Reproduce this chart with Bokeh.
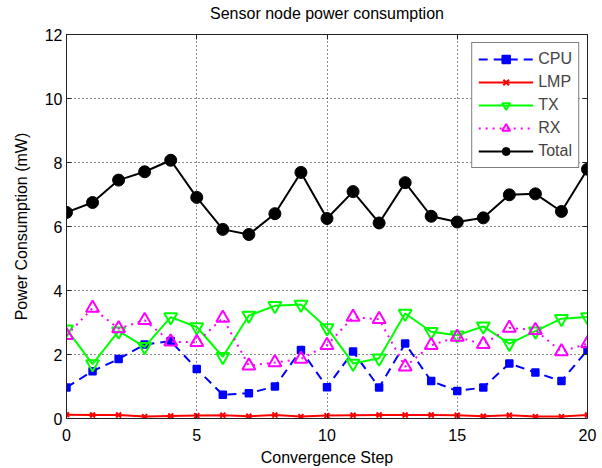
from bokeh.plotting import figure
from bokeh.models import Range1d, FixedTicker, LinearAxis, Legend, LegendItem, CustomLabelingPolicy
from bokeh.embed import file_html
from bokeh.resources import INLINE

steps = list(range(21))
cpu = [0.97, 1.48, 1.86, 2.31, 2.42, 1.55, 0.74, 0.79, 1.00, 2.14, 0.98,
       2.09, 0.97, 2.34, 1.17, 0.86, 0.97, 1.72, 1.44, 1.17, 2.14]
lmp = [0.12, 0.11, 0.11, 0.06, 0.08, 0.09, 0.10, 0.07, 0.11, 0.06, 0.09,
       0.10, 0.11, 0.11, 0.11, 0.10, 0.07, 0.10, 0.06, 0.06, 0.11]
tx = [2.79, 1.70, 2.73, 2.24, 3.17, 2.86, 1.93, 3.22, 3.52, 3.56, 2.83,
      1.72, 1.88, 3.28, 2.71, 2.60, 2.88, 2.34, 2.73, 3.12, 3.17]
rx = [2.60, 3.45, 2.81, 3.07, 2.40, 2.38, 3.14, 1.65, 1.75, 1.86, 2.29,
      3.17, 3.10, 1.62, 2.29, 2.55, 2.32, 2.83, 2.76, 2.09, 2.34]
total = [6.44, 6.75, 7.45, 7.71, 8.07, 6.91, 5.91, 5.75, 6.40, 7.69, 6.25,
         7.09, 6.11, 7.37, 6.32, 6.14, 6.27, 6.99, 7.02, 6.47, 7.79]

x_ticks = [0, 5, 10, 15, 20]
y_ticks = [0, 2, 4, 6, 8, 10, 12]

FONT = "Liberation Sans"
FS = "16px"

p = figure(width=602, height=468, output_backend="svg", toolbar_location=None,
           x_range=Range1d(0, 20), y_range=Range1d(0, 12),
           x_axis_label="Convergence Step", y_axis_label="Power Consumption (mW)",
           title="Sensor node power consumption",
           min_border_left=66, min_border_right=11, min_border_top=34, min_border_bottom=47)

p.title.align = "center"
p.title.text_font = FONT
p.title.text_font_size = FS
p.title.text_font_style = "normal"
p.title.text_color = "black"
p.title.standoff = 4

p.outline_line_color = "#222222"
p.outline_line_width = 1

for ax, ticks in ((p.xaxis[0], x_ticks), (p.yaxis[0], y_ticks)):
    ax.ticker = FixedTicker(ticks=ticks)
    ax.major_tick_in = 5
    ax.major_tick_out = 0
    ax.minor_tick_line_color = None
    ax.axis_line_color = "#222222"
    ax.major_tick_line_color = "#222222"
    ax.major_label_text_font = FONT
    ax.major_label_text_font_size = FS
    ax.major_label_text_color = "black"
    ax.axis_label_text_font = FONT
    ax.axis_label_text_font_size = FS
    ax.axis_label_text_font_style = "normal"
    ax.axis_label_text_color = "black"

p.xaxis[0].major_label_standoff = 10
p.xaxis[0].axis_label_standoff = 5
p.yaxis[0].major_label_standoff = 4
p.yaxis[0].axis_label_standoff = 12

hide_labels = CustomLabelingPolicy(code="""
const idx = Array.from(indices);
for (const i of idx) {
  if (indices.unset) indices.unset(i); else indices.set(i, false);
}
return indices;
""")

for loc, ticks in (("right", y_ticks), ("above", x_ticks)):
    ax = LinearAxis(ticker=FixedTicker(ticks=ticks))
    ax.major_tick_in = 5
    ax.major_tick_out = 0
    ax.minor_tick_line_color = None
    ax.axis_line_color = "#222222"
    ax.major_tick_line_color = "#222222"
    ax.major_label_policy = hide_labels
    ax.major_label_standoff = 0
    p.add_layout(ax, loc)

p.xgrid.ticker = FixedTicker(ticks=x_ticks)
p.ygrid.ticker = FixedTicker(ticks=y_ticks)
for g in (p.xgrid[0], p.ygrid[0]):
    g.grid_line_color = "black"
    g.grid_line_dash = "1 3"
    g.grid_line_width = 1
    g.grid_line_alpha = 0.9

BLUE, RED, GREEN, MAG = "#0000FF", "#FF0000", "#00FF00", "#FF00FF"

l_cpu = p.line(steps, cpu, line_color=BLUE, line_width=2, line_dash="9 6")
m_cpu = p.scatter(steps, cpu, marker="square", size=7, line_color=BLUE, fill_color=BLUE, line_width=1.5)

l_lmp = p.line(steps, lmp, line_color=RED, line_width=2)
m_lmp = p.scatter(steps, lmp, marker="x", size=7, line_color=RED, line_width=2)

l_tx = p.line(steps, tx, line_color=GREEN, line_width=2)
m_tx = p.scatter(steps, tx, marker="inverted_triangle", size=13, line_color=GREEN, fill_color=None, line_width=2)

l_rx = p.line(steps, rx, line_color=MAG, line_width=2, line_dash="2 5")
m_rx = p.scatter(steps, rx, marker="triangle", size=13, line_color=MAG, fill_color=None, line_width=2)

l_tot = p.line(steps, total, line_color="black", line_width=2)
m_tot = p.scatter(steps, total, marker="circle", size=12, line_color="black", fill_color="black")

legend = Legend(items=[
    LegendItem(label="CPU", renderers=[l_cpu, m_cpu]),
    LegendItem(label="LMP", renderers=[l_lmp, m_lmp]),
    LegendItem(label="TX", renderers=[l_tx, m_tx]),
    LegendItem(label="RX", renderers=[l_rx, m_rx]),
    LegendItem(label="Total", renderers=[l_tot, m_tot]),
], location="top_right")
legend.margin = 8
legend.padding = 6
legend.spacing = 3
legend.glyph_width = 55
legend.glyph_height = 20
legend.label_height = 20
legend.label_standoff = 5
legend.label_text_font = FONT
legend.label_text_font_size = FS
legend.border_line_color = "black"
legend.border_line_width = 1
legend.background_fill_color = "white"
legend.background_fill_alpha = 1
p.add_layout(legend)

open("out.html", "w").write(file_html(p, INLINE))
